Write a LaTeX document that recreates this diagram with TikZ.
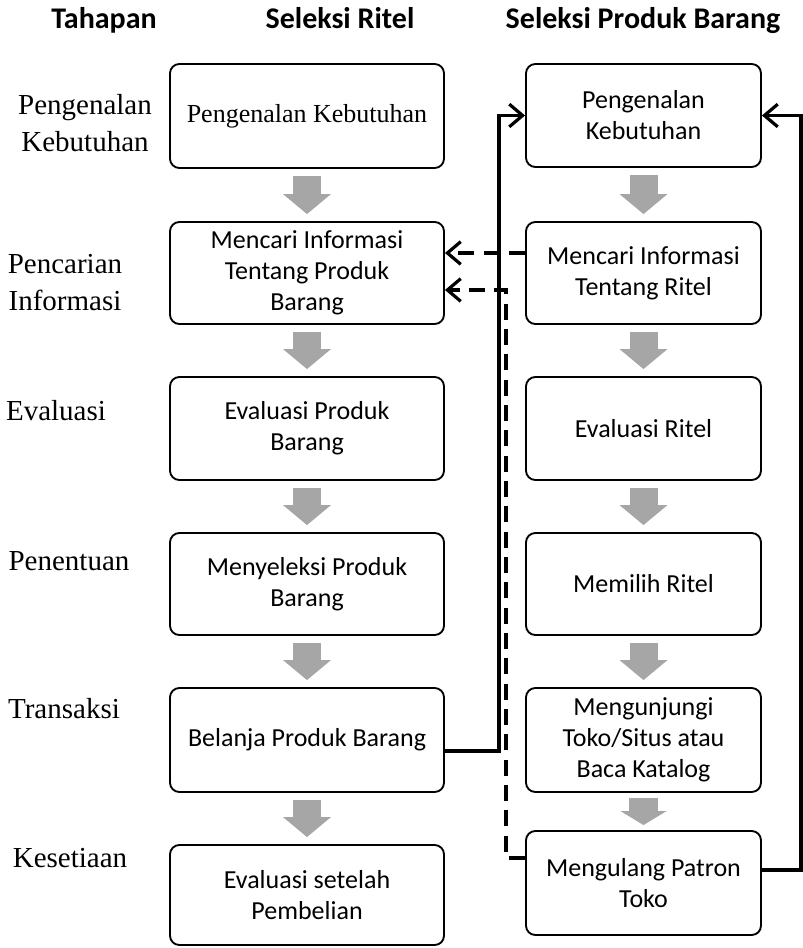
\documentclass[tikz,border=0pt]{standalone}
\usepackage{fontspec}
\setmainfont{Carlito}
\newfontfamily\tms{Liberation Serif}
\usetikzlibrary{arrows.meta,calc}
\definecolor{abu}{RGB}{166,166,166}

\begin{document}
\begin{tikzpicture}[x=0.75pt,y=-0.75pt,
    kotak/.style={draw,rounded corners=7pt,line width=1.4pt,align=center,inner sep=2pt,
        font=\fontsize{19.5}{23.25}\selectfont},
    kiri/.style={kotak,minimum width=205.5pt},
    kanan/.style={kotak,minimum width=176.25pt},
    judul/.style={anchor=base,font=\fontsize{22.5}{27}\selectfont\bfseries},
    tahap/.style={align=center,font=\fontsize{21.75}{27.75}\selectfont\tms},
    panah/.style={draw=abu,line width=21pt,shorten <=5.25pt,shorten >=5.25pt,
        -{Triangle[width=36pt,length=15pt,line width=0pt]}},
    garis/.style={line width=2.4pt,-{Straight Barb[length=10pt,width=17pt]}},
    putus/.style={garis,dash pattern=on 12pt off 7pt}]
    \useasboundingbox (0,0) rectangle (802,948);

    \node[judul] (h1) at (104,29) {Tahapan};
    \node[judul] (h2) at (340,29) {Seleksi Ritel};
    \node[judul] (h3) at (643,29) {Seleksi Produk Barang};

	%tahapan
    \node[tahap] (t1) at (85,123) {Pengenalan\\Kebutuhan};
    \node[tahap] (t2) at (65,283) {Pencarian\\Informasi};
    \node[tahap,anchor=base] (t3) at (56,420) {Evaluasi};
    \node[tahap,anchor=base] (t4) at (69,570) {Penentuan};
    \node[tahap,anchor=base] (t5) at (64,718) {Transaksi};
    \node[tahap,anchor=base] (t6) at (70,867) {Kesetiaan};

	%seleksi ritel
    \node[kiri,minimum height=78pt] (l1) at (307,116) {\tms Pengenalan Kebutuhan};
    \node[kiri,minimum height=76.5pt] (l2) at (307,273) {Mencari Informasi\\Tentang Produk\\Barang};
    \node[kiri,minimum height=77.25pt] (l3) at (307,428.5) {Evaluasi Produk\\Barang};
    \node[kiri,minimum height=76.5pt] (l4) at (307,584) {Menyeleksi Produk\\Barang};
    \node[kiri,minimum height=78pt] (l5) at (307,740) {Belanja Produk Barang};
    \node[kiri,minimum height=75pt] (l6) at (307,895) {Evaluasi setelah\\Pembelian};

	%seleksi produk barang
    \node[kanan,minimum height=77.25pt] (r1) at (643.5,115.5) {Pengenalan\\Kebutuhan};
    \node[kanan,minimum height=76.5pt] (r2) at (643.5,273) {Mencari Informasi\\Tentang Ritel};
    \node[kanan,minimum height=77.25pt] (r3) at (643.5,428.5) {Evaluasi Ritel};
    \node[kanan,minimum height=76.5pt] (r4) at (643.5,584) {Memilih Ritel};
    \node[kanan,minimum height=78pt] (r5) at (643.5,740) {Mengunjungi\\Toko/Situs atau\\Baca Katalog};
    \node[kanan,minimum height=78pt] (r6) at (643.5,883) {Mengulang Patron\\Toko};

    \foreach \a/\b in {l1/l2,l2/l3,l3/l4,l4/l5,l5/l6,r1/r2,r2/r3,r3/r4,r4/r5}
        \draw[panah] (\a) -- (\b);
    \draw[panah,line width=21.75pt,shorten <=3.75pt,shorten >=3.75pt,
        -{Triangle[width=34.5pt,length=10.5pt,line width=0pt]}] (r5) -- (r6);

	%umpan balik
    \draw[garis] ($(l5.east)+(0,11)$) -- ++(54,0) |- (r1.west);
    \draw[garis] ($(r6.east)+(0,-13)$) -- ++(39,0) |- (r1.east);
    \draw[putus] ($(r2.west)+(0,-20)$) -- ($(l2.east)+(0,-20)$);
    \draw[putus] ($(r6.west)+(0,-25)$) -- ++(-19,0) |- ($(l2.east)+(0,17)$);
\end{tikzpicture}
\end{document}
